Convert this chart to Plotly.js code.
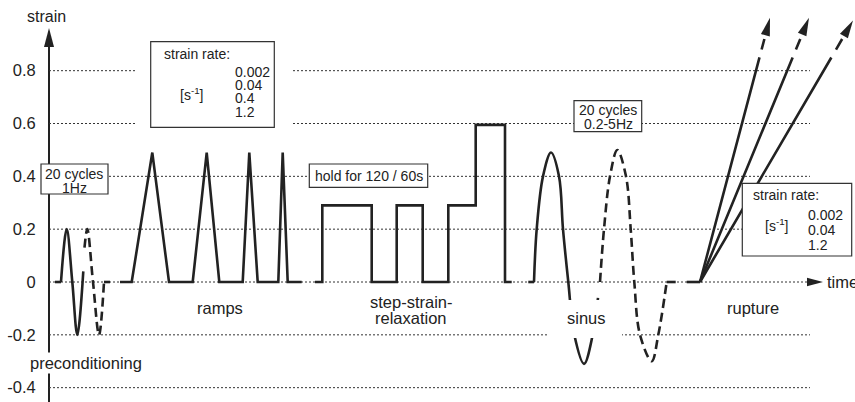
<!DOCTYPE html>
<html><head><meta charset="utf-8">
<script src="https://cdn.plot.ly/plotly-3.0.1.min.js"></script>
<style>html,body{margin:0;padding:0;background:#fff}#chart{width:855px;height:402px}</style>
</head><body><div id="chart"></div>
<script>
// ---------------- data (time: arbitrary units, strain: -) ----------------
const yTickVals = [-0.4, -0.2, 0, 0.2, 0.4, 0.6, 0.8];
const yTickText = ['-0.4', '-0.2', '0', '0.2', '0.4', '0.6', '0.8'];

const precondFlatT = [55, 61];
const precondFlatS = [0, 0];
const precondSolidT = [61, 66.7, 72.3, 77.3, 83.3];
const precondSolidS = [0, 0.2, 0, -0.2, 0.04];
const precondDashT = [84.5, 87.3, 93, 99, 104];
const precondDashS = [0.13, 0.2, 0, -0.2, 0];
const precondDashFlatT = [104, 110];
const precondDashFlatS = [0, 0];

const rampsT = [120, 131.7, 152.3, 169, 192.7, 206.7, 219.3, 242.7, 249.3, 257.7, 278.3, 282.7, 287.7, 301.7];
const rampsS = [0, 0, 0.49, 0, 0, 0.49, 0, 0, 0.49, 0, 0, 0.49, 0, 0];

const stepT = [315, 322.3, 322.3, 371.7, 371.7, 396.7, 396.7, 422.7, 422.7, 448.3, 448.3, 475.7, 475.7, 505, 505, 511.7];
const stepS = [0, 0, 0.29, 0.29, 0, 0, 0.29, 0.29, 0, 0, 0.29, 0.29, 0.595, 0.595, 0, 0];

const sinusFlatT = [528.3, 534];
const sinusFlatS = [0, 0];
const sinusSolidT = [534, 536.7, 543, 551, 559, 563, 568.3, 574.3, 584, 592.7, 598];
const sinusSolidS = [0, 0.2, 0.4, 0.49, 0.4, 0.2, 0, -0.2, -0.31, -0.2, -0.06];
const sinusDashT = [600, 604, 610, 617.3, 626, 630.7, 634.3, 640, 651.7, 658.3, 666.7];
const sinusDashS = [0, 0.2, 0.4, 0.5, 0.4, 0.2, 0, -0.2, -0.3, -0.2, 0];
const sinusDashFlatT = [666.7, 677];
const sinusDashFlatS = [0, 0];

const ruptureFlatT = [686.7, 700];
const ruptureFlatS = [0, 0];
const ruptureStartT = 700;
const ruptureStartS = 0;
const ruptureEndT = [770, 809, 853];
const ruptureEndS = [1.0, 1.0, 0.99];

const rateValuesA = ['0.002', '0.04', '0.4', '1.2'];
const rateValuesB = ['0.002', '0.04', '1.2'];

// ---------------- geometry helpers ----------------
const W = 855, H = 402;
const Y0PX = 282, PXU = 264.15;           // pixel row of strain 0, pixels per strain unit
const yRange = [(Y0PX - H) / PXU, Y0PX / PXU];
const FONT = 'Liberation Sans, Arial, Helvetica, sans-serif';
const INK = '#222';
const sToPx = s => Y0PX - s * PXU;
const pxToS = py => (Y0PX - py) / PXU;
const px = x => x / W;
const py = y => 1 - y / H;

function line(t, s, opts) {
  return Object.assign({
    type: 'scatter', mode: 'lines', x: t, y: s, hoverinfo: 'skip',
    line: Object.assign({color: INK, width: 2.6}, opts || {})
  });
}
function head(tipX, tipPy, fromX, fromPy, len, hw) {
  const dx = tipX - fromX, dy = tipPy - fromPy, L = Math.hypot(dx, dy);
  const ux = dx / L, uy = dy / L, nx = -uy, ny = ux;
  const bx = tipX - ux * len, by = tipPy - uy * len;
  const xs = [tipX, bx + nx * hw, bx - nx * hw, tipX];
  const ys = [tipPy, by + ny * hw, by - ny * hw, tipPy].map(pxToS);
  return {type: 'scatter', mode: 'lines', x: xs, y: ys, fill: 'toself',
          fillcolor: INK, line: {width: 0, color: INK}, hoverinfo: 'skip'};
}

const data = [
  line(precondFlatT, precondFlatS),
  line(precondSolidT, precondSolidS, {shape: 'spline'}),
  line(precondDashT, precondDashS, {shape: 'spline', dash: '9px,5px'}),
  line(precondDashFlatT, precondDashFlatS, {dash: '9px,5px'}),
  line(rampsT, rampsS),
  line(stepT, stepS),
  line(sinusFlatT, sinusFlatS),
  line(sinusSolidT, sinusSolidS, {shape: 'spline'}),
  line(sinusDashT, sinusDashS, {shape: 'spline', dash: '9px,5px'}),
  line(sinusDashFlatT, sinusDashFlatS, {dash: '9px,5px'}),
  line(ruptureFlatT, ruptureFlatS)
];
ruptureEndT.forEach((te, i) => {
  const se = ruptureEndS[i];
  const L = Math.hypot(te - ruptureStartT, sToPx(se) - sToPx(ruptureStartS));
  const f = 1 / se;
  data.push(line([ruptureStartT, te], [ruptureStartS, se], {
    dash: (0.85 * f * L).toFixed(1) + 'px,' + (0.03 * f * L).toFixed(1) + 'px,' +
          (0.04 * f * L).toFixed(1) + 'px,' + L.toFixed(1) + 'px'
  }));
  data.push(head(te, sToPx(se), ruptureStartT, sToPx(ruptureStartS), 18, 4.6));
});
// axis arrowheads
data.push(head(49, 28, 49, 100, 19, 5));
data.push(head(823, Y0PX, 700, Y0PX, 16, 4.3));

// ---------------- shapes ----------------
const shapes = [];
yTickVals.forEach(v => shapes.push({
  type: 'line', xref: 'x', yref: 'y', x0: 49, x1: v === 0 ? 808 : 810, y0: v, y1: v,
  line: {color: '#333', width: 1, dash: '2px,2px'}, layer: 'below'
}));
shapes.push({type: 'line', xref: 'paper', yref: 'paper', x0: px(49), x1: px(49),
  y0: 0, y1: py(45), line: {color: INK, width: 2}, layer: 'below'});

function whiteRect(x0, y0, x1, y1) {
  shapes.push({type: 'rect', xref: 'paper', yref: 'paper', x0: px(x0), x1: px(x1),
    y0: py(y1), y1: py(y0), fillcolor: '#fff', line: {width: 0}, layer: 'above'});
}
function box(x0, y0, x1, y1) {
  shapes.push({type: 'rect', xref: 'paper', yref: 'paper', x0: px(x0), x1: px(x1),
    y0: py(y1), y1: py(y0), fillcolor: '#fff', line: {color: '#333', width: 1.2}, layer: 'above'});
}
whiteRect(135, 37, 293, 131);
box(150.7, 41.7, 274.3, 127.3);
box(41, 164, 108, 194);
box(309.3, 164, 427.7, 187.3);
box(574, 100.7, 641.7, 131.7);
box(742.3, 183.3, 851.7, 256);
whiteRect(548, 300, 622, 338);

// ---------------- annotations ----------------
const annotations = [];
function txt(text, x, y, anchor, size, extra) {
  annotations.push(Object.assign({
    text: text, xref: 'paper', yref: 'paper', x: px(x), y: py(y),
    xanchor: anchor || 'center', yanchor: 'middle', showarrow: false,
    font: {family: FONT, size: size || 14, color: INK}
  }, extra || {}));
}
txt('strain', 46, 16.5, 'center', 16);
txt('time', 825, 282, 'left', 16.5);
txt('preconditioning', 86, 362.5, 'center', 16.5, {bgcolor: '#fff'});
txt('ramps', 220, 307.5, 'center', 16.5);
txt('step-strain-', 411, 301.5, 'center', 16.5);
txt('relaxation', 411, 317.5, 'center', 16.5);
txt('sinus', 586, 318, 'center', 16.5);
txt('rupture', 753, 308, 'center', 16.5);

txt('strain rate:', 161.5, 53.5, 'left', 14);
txt('[s<sup>-1</sup>]', 191.5, 93.5, 'center', 14);
rateValuesA.forEach((v, i) => txt(v, 232.5, 71.7 + i * 13.35, 'left', 14));

txt('20 cycles', 74, 173.5, 'center', 14);
txt('1Hz', 74, 188.3, 'center', 14);
txt('hold for 120 / 60s', 368.5, 175.7, 'center', 14);
txt('20 cycles', 608, 110, 'center', 14);
txt('0.2-5Hz', 608, 124.3, 'center', 14);

txt('strain rate:', 751, 195, 'left', 14);
txt('[s<sup>-1</sup>]', 776.5, 225, 'center', 14);
rateValuesB.forEach((v, i) => txt(v, 806, 215 + i * 15, 'left', 14));

const layout = {
  width: W, height: H, margin: {l: 0, r: 0, t: 0, b: 0},
  paper_bgcolor: '#fff', plot_bgcolor: '#fff', showlegend: false,
  font: {family: FONT, color: INK},
  xaxis: {range: [0, W], visible: false, fixedrange: true},
  yaxis: {range: yRange, anchor: 'free', position: 49 / W, tickvals: yTickVals, ticktext: yTickText,
          showline: false, showgrid: false, zeroline: false, ticks: 'outside', ticklen: 10,
          tickcolor: 'rgba(0,0,0,0)', tickfont: {family: FONT, size: 16.5, color: INK}, fixedrange: true},
  shapes: shapes, annotations: annotations
};
Plotly.newPlot('chart', data, layout, {displayModeBar: false, staticPlot: true});
</script>
</body></html>
